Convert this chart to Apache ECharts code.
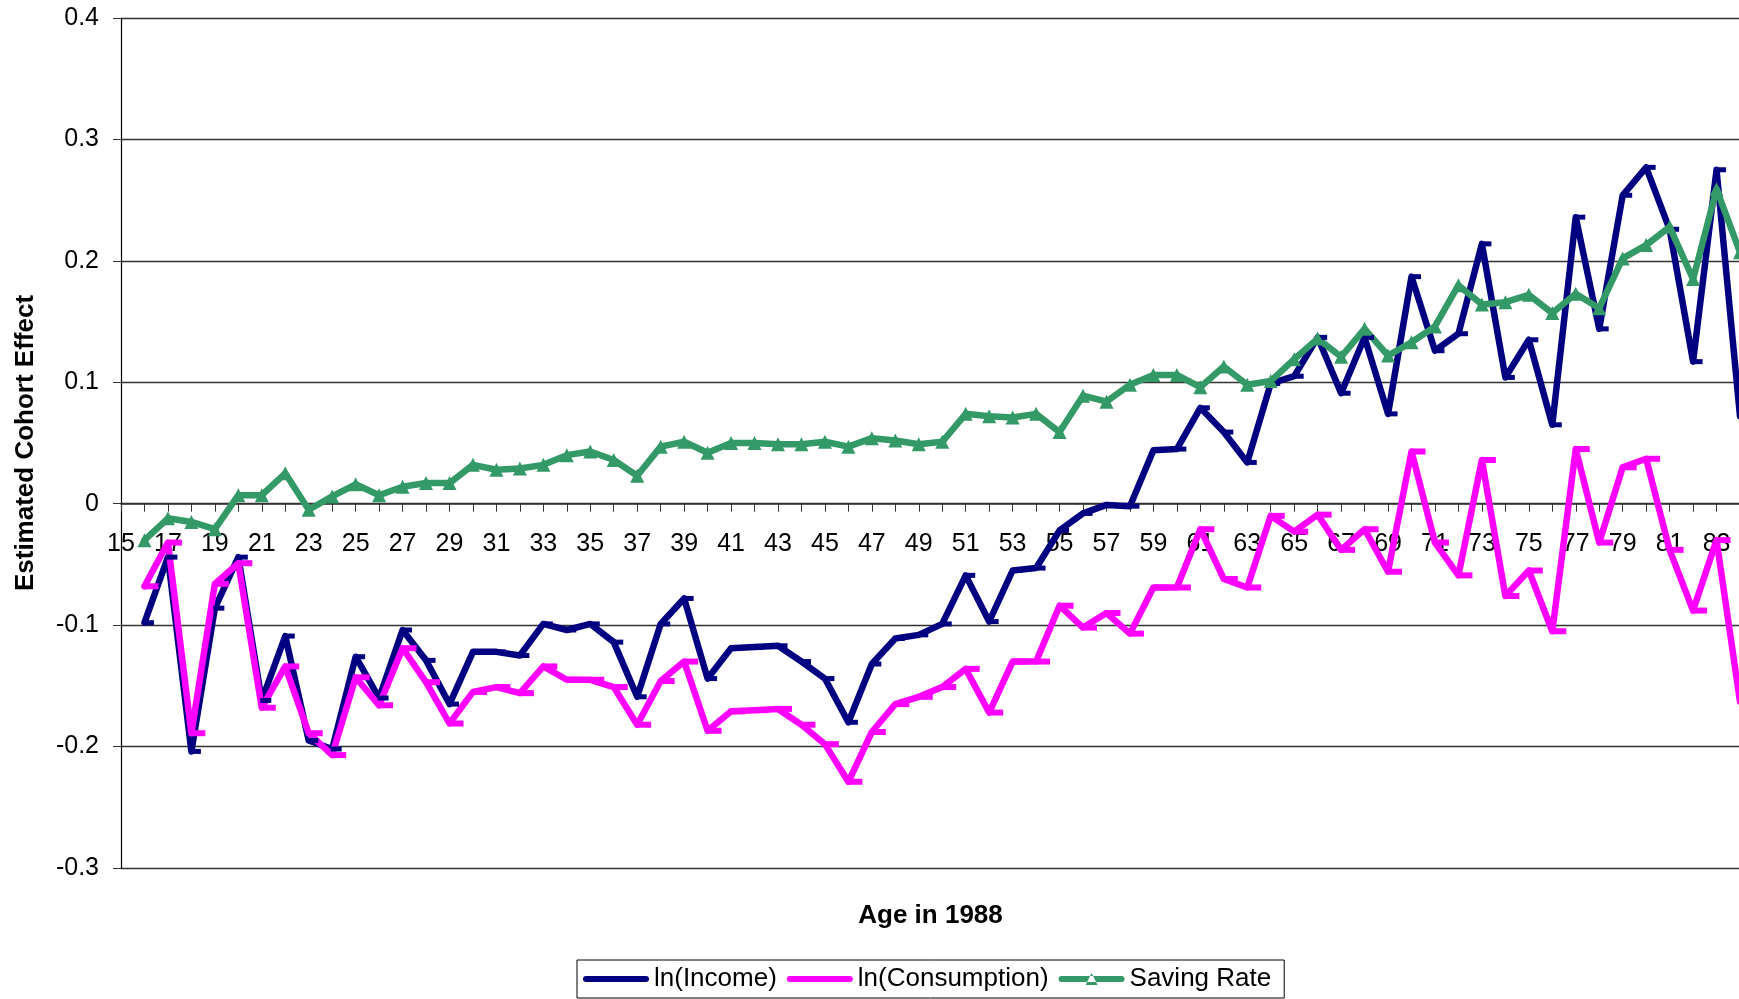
<!DOCTYPE html>
<html>
<head>
<meta charset="utf-8">
<title>Estimated Cohort Effect</title>
<script src="https://cdn.jsdelivr.net/npm/echarts/dist/echarts.min.js"></script>
<style>
  html, body { margin: 0; padding: 0; background: #fff; overflow: hidden; }
  #container { width: 1739px; height: 999px; }
</style>
</head>
<body>
<div id="container"></div>
<script>
// ages in 1988 (15 has no data)
var ages = []
for (var a = 15; a <= 84; a++) ages.push(String(a))

var lnIncome = [null,
  -0.098, -0.044, -0.204, -0.086, -0.044, -0.162, -0.109, -0.195, -0.202, -0.126,
  -0.160, -0.104, -0.129, -0.165, -0.122, -0.122, -0.125, -0.099, -0.104, -0.099,
  -0.114, -0.159, -0.099, -0.078, -0.144, -0.119, -0.118, -0.117, -0.130, -0.144,
  -0.180, -0.132, -0.111, -0.108, -0.099, -0.059, -0.097, -0.055, -0.053, -0.022,
  -0.008, -0.001, -0.002, 0.044, 0.045, 0.079, 0.059, 0.034, 0.099, 0.105,
  0.137, 0.091, 0.137, 0.074, 0.187, 0.126, 0.140, 0.214, 0.104, 0.135,
  0.065, 0.236, 0.144, 0.254, 0.277, 0.226, 0.117, 0.275, 0.072]

var lnConsumption = [null,
  -0.068, -0.032, -0.189, -0.066, -0.049, -0.168, -0.134, -0.189, -0.207, -0.143,
  -0.166, -0.119, -0.147, -0.181, -0.155, -0.151, -0.156, -0.134, -0.145, -0.145,
  -0.151, -0.182, -0.146, -0.130, -0.187, -0.171, -0.170, -0.169, -0.182, -0.198,
  -0.229, -0.188, -0.165, -0.159, -0.151, -0.136, -0.172, -0.130, -0.130, -0.084,
  -0.102, -0.090, -0.107, -0.069, -0.069, -0.021, -0.062, -0.069, -0.010, -0.023,
  -0.009, -0.038, -0.021, -0.056, 0.043, -0.032, -0.059, 0.036, -0.076, -0.055,
  -0.105, 0.045, -0.032, 0.030, 0.037, -0.038, -0.088, -0.030, -0.163]

var savingRate = [null,
  -0.030, -0.012, -0.015, -0.021, 0.007, 0.007, 0.025, -0.005, 0.006, 0.016,
  0.007, 0.014, 0.017, 0.017, 0.032, 0.028, 0.029, 0.032, 0.040, 0.043,
  0.036, 0.023, 0.047, 0.051, 0.042, 0.050, 0.050, 0.049, 0.049, 0.051,
  0.047, 0.054, 0.052, 0.049, 0.051, 0.074, 0.072, 0.071, 0.074, 0.059,
  0.089, 0.084, 0.098, 0.106, 0.106, 0.096, 0.113, 0.098, 0.101, 0.119,
  0.136, 0.121, 0.144, 0.122, 0.133, 0.146, 0.180, 0.164, 0.166, 0.172,
  0.157, 0.173, 0.161, 0.202, 0.213, 0.228, 0.185, 0.259, 0.207]

var font = 'Liberation Sans, Arial, sans-serif'

// plot area: 0.4 at top, -0.3 at bottom; the category axis crosses at 0
var plotTop = 18
var plotHeight = 850
var zeroY = plotTop + plotHeight * 0.4 / 0.7

var option = {
    animation: false,
    backgroundColor: '#fff',
    textStyle: { fontFamily: font },
    grid: [
        { left: 121, top: plotTop, width: 1619, height: plotHeight, containLabel: false, outerBoundsMode: 'none' },
        // upper half only, so its bottom axis sits on the zero line
        { left: 121, top: plotTop, width: 1619, height: zeroY - plotTop, containLabel: false, outerBoundsMode: 'none' }
    ],
    legend: {
        left: 577,
        top: 960,
        padding: [6, 13, 6, 6],
        itemGap: 10,
        itemWidth: 66,
        itemHeight: 14,
        borderColor: '#000',
        borderWidth: 1,
        textStyle: { fontSize: 26, color: '#000', fontFamily: font },
        data: [
            { name: 'ln(Income)', icon: 'path://M3,4 L63,4 A3,3 0 0 1 63,10 L3,10 A3,3 0 0 1 3,4 Z' },
            { name: 'ln(Consumption)', icon: 'path://M3,4 L63,4 A3,3 0 0 1 63,10 L3,10 A3,3 0 0 1 3,4 Z' },
            { name: 'Saving Rate', icon: 'path://M3,4 L63,4 A3,3 0 0 1 63,10 L3,10 A3,3 0 0 1 3,4 Z M27,13 L39,13 L33,1 Z' }
        ]
    },
    xAxis: [
        {
            type: 'category',
            gridIndex: 0,
            data: ages,
            boundaryGap: false,
            show: false
        },
        {
            type: 'category',
            gridIndex: 1,
            data: ages,
            boundaryGap: false,
            position: 'bottom',
            name: 'Age in 1988',
            nameLocation: 'middle',
            nameGap: 399,
            nameTextStyle: { fontSize: 26, fontWeight: 'bold', color: '#000', fontFamily: font },
            axisLine: { show: true, onZero: false, lineStyle: { color: '#333', width: 1.5 } },
            axisTick: { show: true, interval: 0, length: 8, lineStyle: { color: '#333', width: 1 } },
            axisLabel: { interval: 1, fontSize: 25, color: '#000', margin: 28, fontFamily: font },
            splitLine: { show: false }
        }
    ],
    yAxis: [
        {
            type: 'value',
            gridIndex: 0,
            min: -0.3,
            max: 0.4,
            interval: 0.1,
            name: 'Estimated Cohort Effect',
            nameLocation: 'middle',
            nameGap: 82,
            nameTextStyle: { fontSize: 26, fontWeight: 'bold', color: '#000', fontFamily: font },
            axisLine: { show: true, lineStyle: { color: '#000', width: 1.2 } },
            axisTick: { show: true, length: 8, lineStyle: { color: '#333' } },
            axisLabel: {
                fontSize: 25,
                color: '#000',
                margin: 22,
                fontFamily: font,
                formatter: function (v) { return String(+v.toFixed(1)) }
            },
            splitLine: { show: true, lineStyle: { color: '#333', width: 1.3 } }
        },
        {
            type: 'value',
            gridIndex: 1,
            min: 0,
            max: 0.4,
            show: false
        }
    ],
    series: [
        {
            name: 'ln(Income)',
            type: 'line',
            data: lnIncome,
            color: '#000080',
            lineStyle: { width: 6.5, cap: 'round', join: 'round' },
            symbol: 'rect',
            symbolSize: [11, 5],
            symbolOffset: [4, 0],
            showAllSymbol: true
        },
        {
            name: 'ln(Consumption)',
            type: 'line',
            data: lnConsumption,
            color: '#FF00FF',
            lineStyle: { width: 6.5, cap: 'round', join: 'round' },
            symbol: 'rect',
            symbolSize: [14, 6],
            symbolOffset: [7, 0],
            showAllSymbol: true
        },
        {
            name: 'Saving Rate',
            type: 'line',
            data: savingRate,
            color: '#339966',
            lineStyle: { width: 6.5, cap: 'round', join: 'round' },
            symbol: 'triangle',
            symbolSize: 14,
            showAllSymbol: true
        }
    ]
}

var myChart = echarts.init(document.getElementById('container'), null, { renderer: 'canvas' })
myChart.setOption(option)
</script>
</body>
</html>
